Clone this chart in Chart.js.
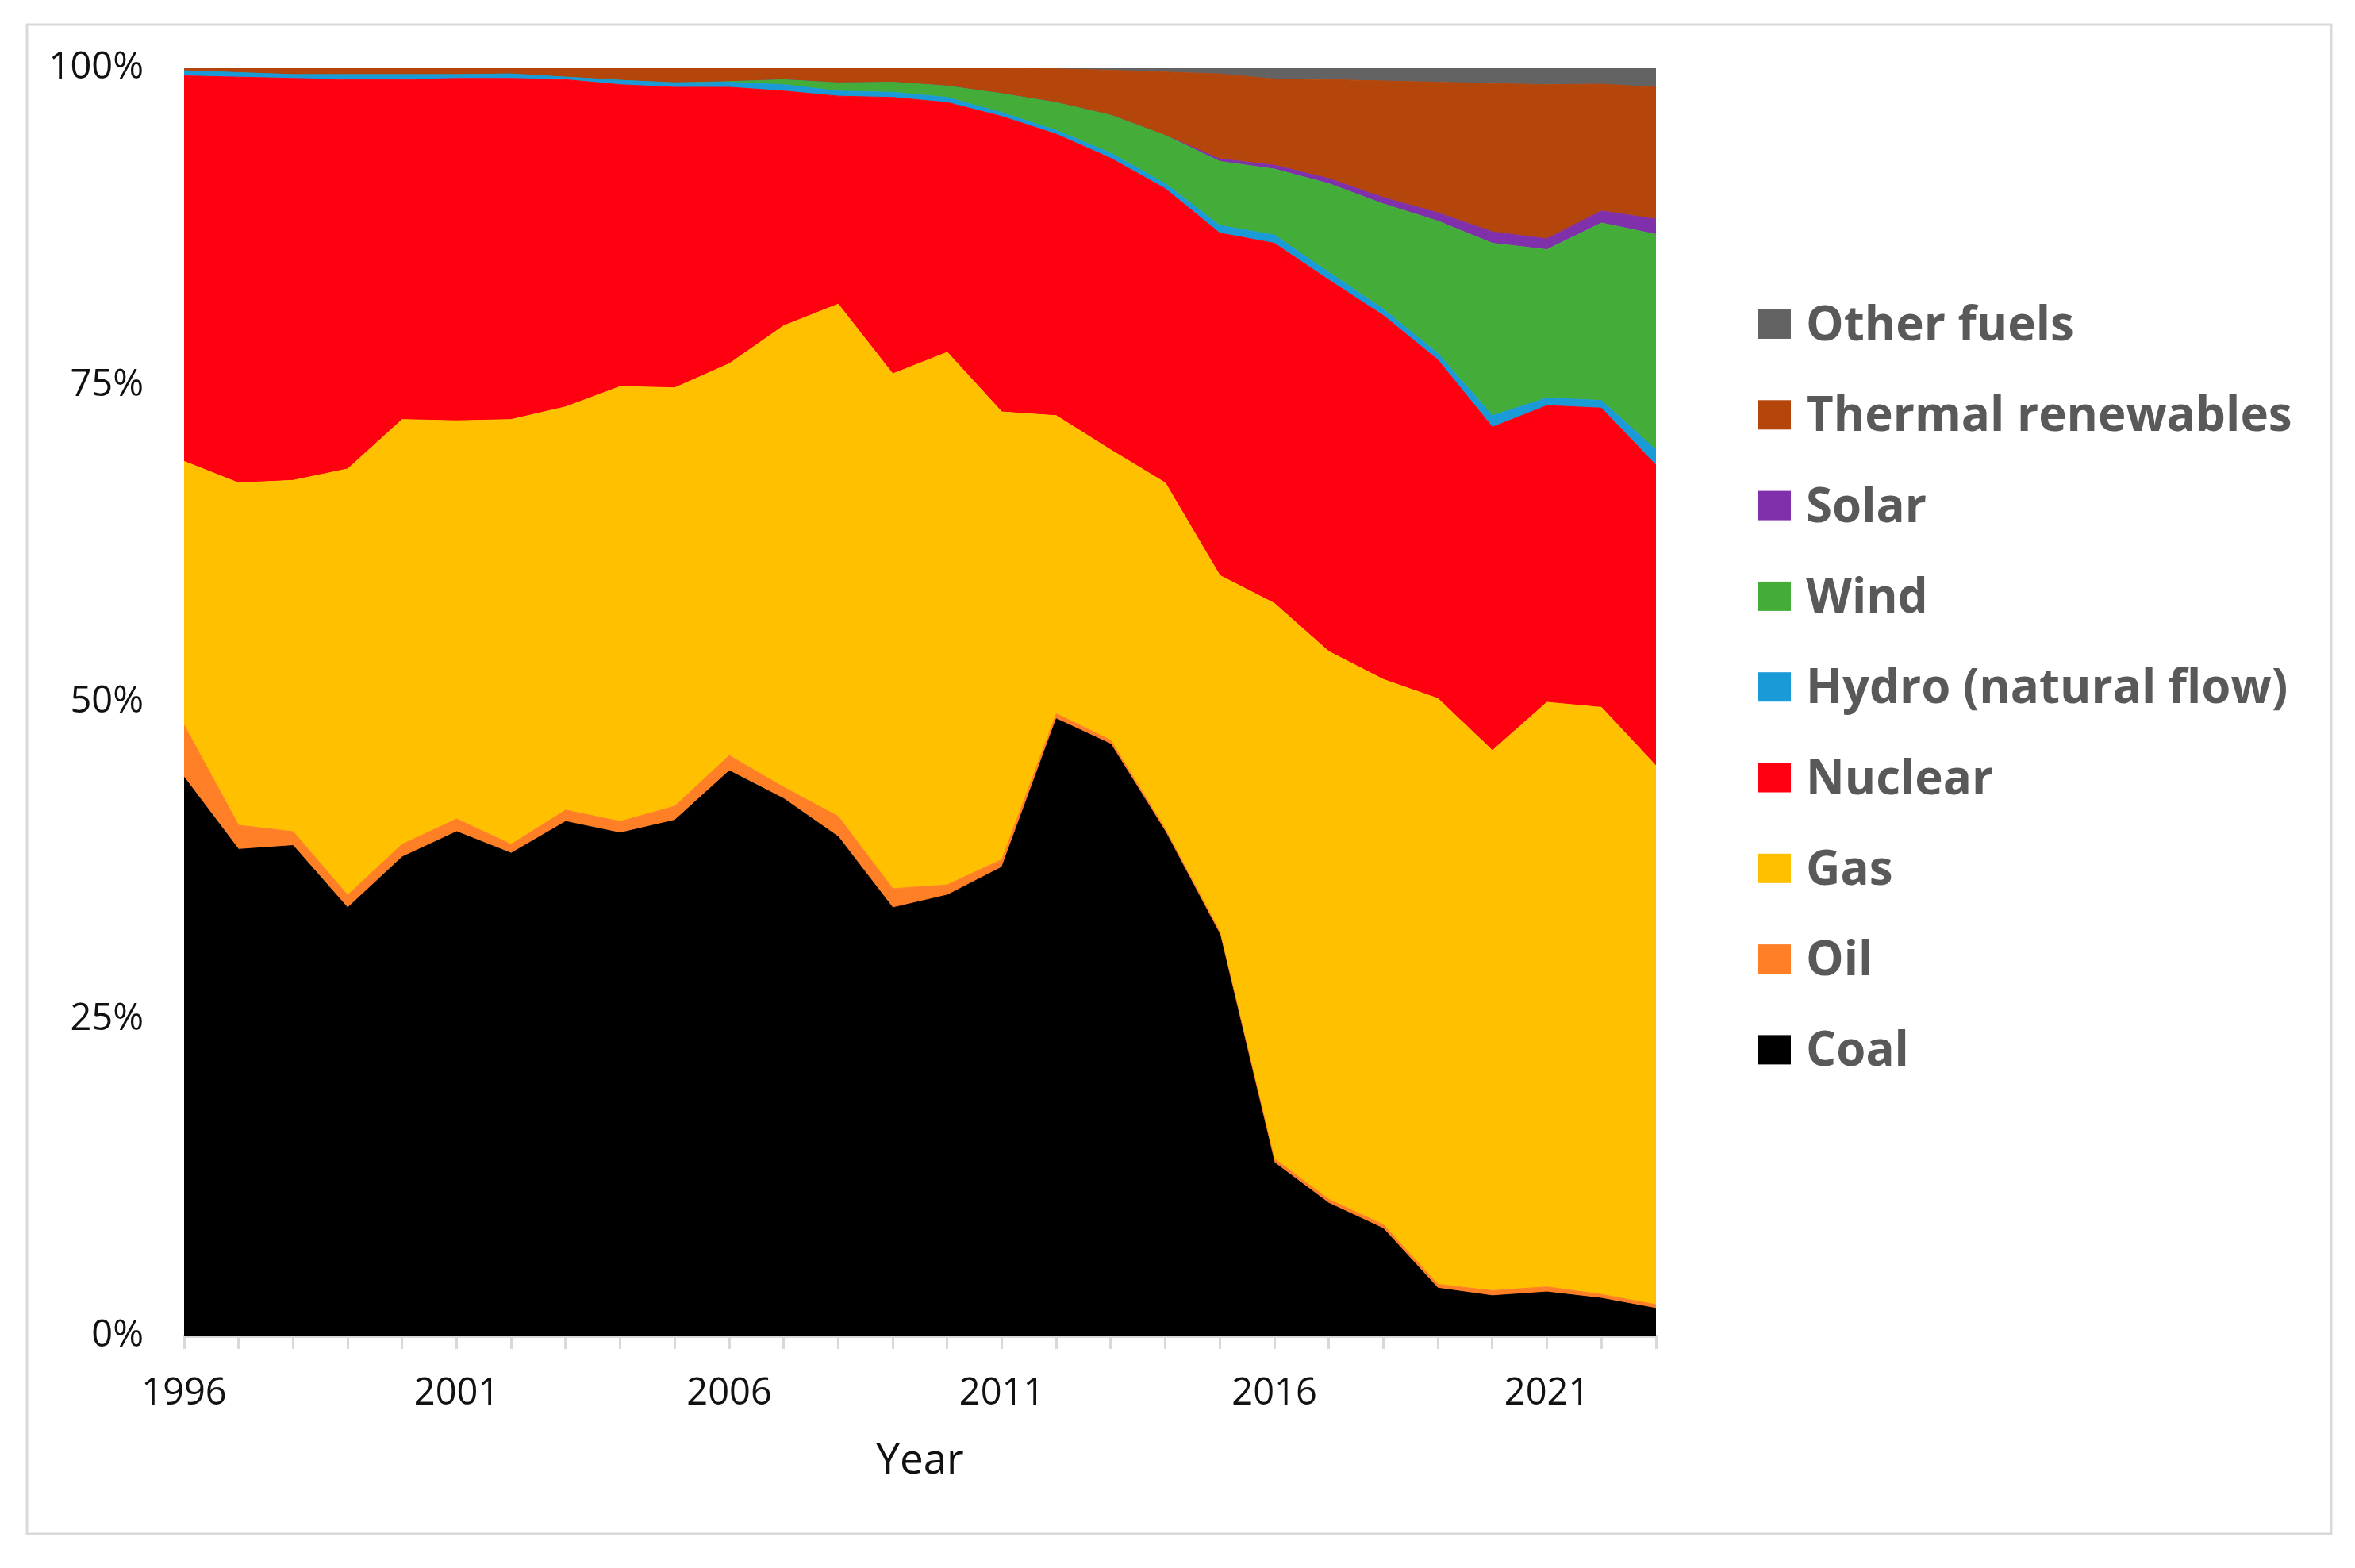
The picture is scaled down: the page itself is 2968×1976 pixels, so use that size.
<!DOCTYPE html>
<html>
<head>
<meta charset="utf-8">
<title>Electricity generation mix 1996-2023</title>
<script src="https://cdn.jsdelivr.net/npm/chart.js@4.4.1/dist/chart.umd.min.js"></script>
<style>
  html, body { margin: 0; padding: 0; background: #fff; overflow: hidden; }
  canvas { display: block; }
</style>
</head>
<body>
<canvas id="mix" width="2968" height="1976"></canvas>
<script>
// --- Data (share of generation, %) ---
const years = ['1996', '1997', '1998', '1999', '2000', '2001', '2002', '2003', '2004', '2005',
               '2006', '2007', '2008', '2009', '2010', '2011', '2012', '2013', '2014', '2015',
               '2016', '2017', '2018', '2019', '2020', '2021', '2022', '2023'];
const yearTicks = ['1996', '2001', '2006', '2011', '2016', '2021'];
const percentTicks = [0, 25, 50, 75, 100];

const coal    = [44.1, 38.4, 38.7, 33.8, 37.8, 39.8, 38.1, 40.6, 39.7, 40.7, 44.6, 42.4, 39.4, 33.8,
                 34.8, 37.0, 48.7, 46.7, 39.8, 31.7, 13.7, 10.5, 8.5, 3.8, 3.2, 3.5, 3.0, 2.2];
const oil     = [4.1, 1.9, 1.1, 1.0, 1.0, 1.0, 0.7, 0.9, 0.9, 1.1, 1.2, 0.9, 1.6, 1.5,
                 0.8, 0.6, 0.4, 0.3, 0.2, 0.2, 0.3, 0.3, 0.3, 0.3, 0.4, 0.4, 0.3, 0.3];
const gas     = [20.8, 27.0, 27.7, 33.6, 33.5, 31.4, 33.5, 31.8, 34.3, 33.0, 30.9, 36.4, 40.4, 40.6,
                 42.0, 35.3, 23.5, 22.9, 27.3, 28.1, 43.8, 43.2, 43.0, 46.2, 42.6, 46.1, 46.3, 42.5];
const nuclear = [30.4, 32.0, 31.7, 30.7, 26.8, 27.0, 26.9, 25.8, 23.8, 23.7, 21.8, 18.5, 16.4, 21.8,
                 19.7, 23.3, 22.2, 23.0, 23.2, 27.0, 28.4, 29.3, 28.7, 26.7, 25.5, 23.4, 23.6, 23.7];
const hydro   = [0.4, 0.35, 0.3, 0.4, 0.4, 0.3, 0.35, 0.2, 0.35, 0.35, 0.4, 0.5, 0.4, 0.4,
                 0.4, 0.3, 0.3, 0.4, 0.4, 0.6, 0.65, 0.6, 0.5, 0.5, 0.9, 0.6, 0.6, 1.2];
const wind    = [0, 0, 0, 0, 0, 0, 0, 0, 0, 0, 0.05, 0.4, 0.65, 0.8,
                 0.9, 1.5, 2.2, 3.0, 3.8, 5.05, 5.2, 7.0, 8.3, 10.45, 13.6, 11.7, 14.0, 17.0];
const solar   = [0, 0, 0, 0, 0, 0, 0, 0, 0, 0, 0, 0, 0, 0,
                 0, 0, 0, 0, 0, 0.2, 0.3, 0.4, 0.5, 0.65, 0.9, 0.85, 0.95, 1.2];
const thermal = [0.2, 0.35, 0.5, 0.5, 0.5, 0.5, 0.45, 0.7, 0.95, 1.15, 1.05, 0.9, 1.15, 1.1,
                 1.4, 2.0, 2.65, 3.55, 5.0, 6.7, 6.8, 7.8, 9.2, 10.3, 11.7, 12.15, 10.0, 10.4];
const other   = [0, 0, 0, 0, 0, 0, 0, 0, 0, 0, 0, 0, 0, 0,
                 0, 0, 0.05, 0.15, 0.3, 0.45, 0.85, 0.9, 1.0, 1.1, 1.2, 1.3, 1.25, 1.5];

const seriesNames = ['Coal', 'Oil', 'Gas', 'Nuclear', 'Hydro (natural flow)', 'Wind', 'Solar',
                     'Thermal renewables', 'Other fuels'];
const seriesValues = [coal, oil, gas, nuclear, hydro, wind, solar, thermal, other];
const seriesColors = ['#000000', '#ff7f27', '#ffc000', '#ff0010', '#1a9ad6', '#44ad3a', '#7f30aa',
                      '#b4450b', '#636363'];

const tickFont = { family: '"Open Sans", "Liberation Sans", sans-serif', size: 47 };

// --- Plugins: outer frame and the legend on the right ---
const frame = {
    id: 'frame',
    beforeDraw(chart) {
        const ctx = chart.ctx;
        ctx.save();
        ctx.fillStyle = '#ffffff';
        ctx.fillRect(0, 0, chart.width, chart.height);
        ctx.strokeStyle = '#d9d9d9';
        ctx.lineWidth = 3;
        ctx.strokeRect(34, 31, 2904, 1902);
        ctx.restore();
    }
};

const sideLegend = {
    id: 'sideLegend',
    afterDraw(chart) {
        const ctx = chart.ctx;
        const items = chart.data.datasets.slice().reverse();
        ctx.save();
        ctx.font = 'bold 60px "Open Sans", "Liberation Sans", sans-serif';
        ctx.textBaseline = 'alphabetic';
        items.forEach((ds, i) => {
            const y = 408 + i * 114.3;
            ctx.fillStyle = ds.backgroundColor;
            ctx.fillRect(2216, y - 18, 41, 37);
            ctx.fillStyle = '#595959';
            ctx.fillText(ds.label, 2276, y + 21);
        });
        ctx.restore();
    }
};

new Chart(document.getElementById('mix'), {
    type: 'line',
    data: {
        labels: years,
        datasets: seriesNames.map((name, i) => ({
            label: name,
            data: seriesValues[i],
            backgroundColor: seriesColors[i],
            borderColor: seriesColors[i],
            borderWidth: 1,
            pointRadius: 0,
            tension: 0,
            fill: i === 0 ? 'origin' : '-1'
        }))
    },
    options: {
        responsive: false,
        animation: false,
        devicePixelRatio: 1,
        layout: { padding: { left: 0, top: 86, right: 881, bottom: 0 } },
        plugins: {
            legend: { display: false },
            tooltip: { enabled: false }
        },
        scales: {
            x: {
                offset: false,
                grid: {
                    drawOnChartArea: false,
                    drawTicks: true,
                    tickLength: 16,
                    color: '#d9d9d9',
                    lineWidth: 3
                },
                border: { display: true, color: '#d9d9d9', width: 3 },
                ticks: {
                    autoSkip: false,
                    maxRotation: 0,
                    padding: 28,
                    color: '#111111',
                    font: tickFont,
                    callback: function(value) {
                        const label = this.getLabelForValue(value);
                        return yearTicks.includes(label) ? label : '';
                    }
                },
                title: {
                    display: true,
                    text: 'Year',
                    color: '#111111',
                    font: { family: tickFont.family, size: 53 },
                    padding: { top: 0, bottom: 102 }
                },
                afterFit: scale => { scale.height = 292; }
            },
            y: {
                stacked: true,
                min: 0,
                max: 100,
                grid: { display: false, drawTicks: false, tickLength: 0 },
                border: { display: false },
                afterBuildTicks: scale => {
                    scale.ticks = percentTicks.map(v => ({ value: v }));
                },
                ticks: {
                    padding: 51,
                    color: '#111111',
                    font: tickFont,
                    callback: v => v + '%'
                },
                afterFit: scale => { scale.width = 232; }
            }
        }
    },
    plugins: [frame, sideLegend]
});
</script>
</body>
</html>
